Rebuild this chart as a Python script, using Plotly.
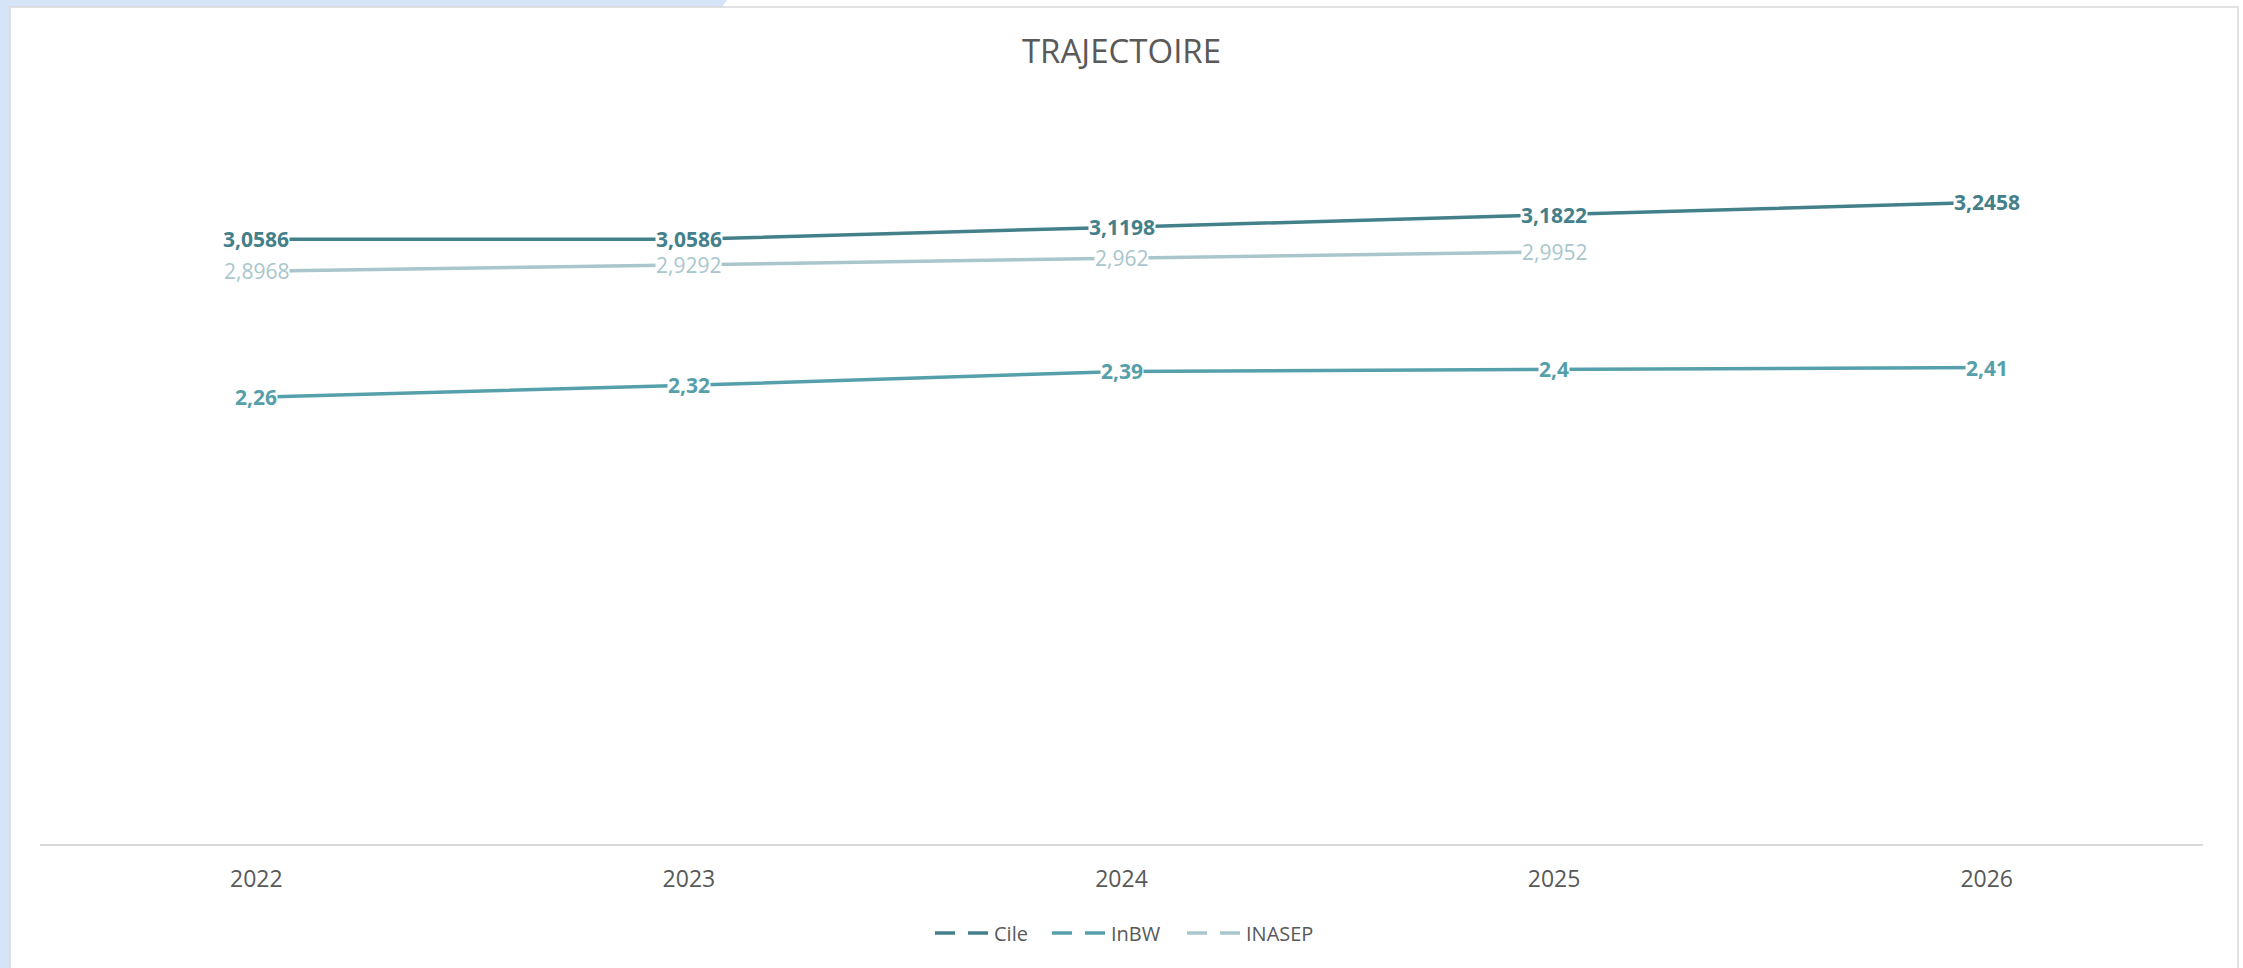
import plotly.graph_objects as go

years = [2022, 2023, 2024, 2025, 2026]
cile = [3.0586, 3.0586, 3.1198, 3.1822, 3.2458]
inbw = [2.26, 2.32, 2.39, 2.4, 2.41]
inasep = [2.8968, 2.9292, 2.962, 2.9952, None]
series_names = ["Cile", "InBW", "INASEP"]

colors = ["#43808A", "#55A0AA", "#A8C6CC"]
weights = ["bold", "bold", "normal"]
series_values = [cile, inbw, inasep]

W, H = 2243, 968
ML, MR, MT, MB = 40, 40, 152, 124
PW, PH = W - ML - MR, H - MT - MB

def px(x):
    return (x - ML) / PW

def py(y):
    return (H - MB - y) / PH

FONT = "Open Sans"
fig = go.Figure()

for name, vals, color in zip(series_names, series_values, colors):
    xs = [x for x, v in zip(years, vals) if v is not None]
    ys = [v for v in vals if v is not None]
    fig.add_trace(go.Scatter(x=xs, y=ys, mode="lines", name=name,
                             line=dict(color=color, width=3.5),
                             showlegend=False, hoverinfo="skip"))

annotations = []
for vals, color, weight in zip(series_values, colors, weights):
    for x, v in zip(years, vals):
        if v is None:
            continue
        annotations.append(dict(
            x=x, y=v, xref="x", yref="y", showarrow=False,
            text=f"{v}".replace(".", ","),
            font=dict(family=FONT, size=21, color=color, weight=weight),
            bgcolor="white", borderpad=0,
            xanchor="center", yanchor="middle"))

shapes = [
    dict(type="rect", xref="paper", yref="paper",
         x0=px(0), x1=px(10), y0=py(H), y1=py(0),
         fillcolor="#D6E4F7", line=dict(width=0), layer="below"),
    dict(type="path", xref="paper", yref="paper",
         path=f"M {px(0)},{py(0)} L {px(727)},{py(0)} L {px(722)},{py(7)} L {px(0)},{py(7)} Z",
         fillcolor="#D6E4F7", line=dict(width=0), layer="below"),
    dict(type="rect", xref="paper", yref="paper",
         x0=px(10), x1=px(2238), y0=py(H + 5), y1=py(7),
         fillcolor="rgba(0,0,0,0)", line=dict(color="#D9D9D9", width=1.5), layer="below"),
]

# manual legend (dashed symbol + label)
legend_sym_x = [935, 1052, 1187]
LEG_Y = 933
for name, color, x0 in zip(series_names, colors, legend_sym_x):
    shapes.append(dict(type="line", xref="paper", yref="paper",
                       x0=px(x0), x1=px(x0 + 54), y0=py(LEG_Y), y1=py(LEG_Y),
                       line=dict(color=color, width=3.5, dash="20px,13px")))
    annotations.append(dict(x=px(x0 + 57), y=py(LEG_Y), xref="paper", yref="paper",
                            text=name, showarrow=False, xanchor="left", yanchor="middle",
                            font=dict(family=FONT, size=20, color="#595959")))

fig.update_layout(
    width=W, height=H,
    margin=dict(l=ML, r=MR, t=MT, b=MB),
    paper_bgcolor="white", plot_bgcolor="white",
    showlegend=False,
    title=dict(text="TRAJECTOIRE", x=0.5, xref="container", y=1 - 51 / H,
               yref="container", xanchor="center", yanchor="middle",
               font=dict(family=FONT, size=33, color="#595959")),
    xaxis=dict(range=[2021.5, 2026.5], tickmode="array", tickvals=years,
               ticktext=[str(y) for y in years], showgrid=False, zeroline=False,
               showline=True, linecolor="#D9D9D9", linewidth=1.5, ticks="",
               ticklabelstandoff=14,
               tickfont=dict(family=FONT, size=23, color="#595959")),
    yaxis=dict(range=[0, 3.5], visible=False, showgrid=False, zeroline=False),
    annotations=annotations,
    shapes=shapes,
)

fig.write_html("out.html", config={"displayModeBar": False},
               post_script="document.body.style.margin='0px';")
